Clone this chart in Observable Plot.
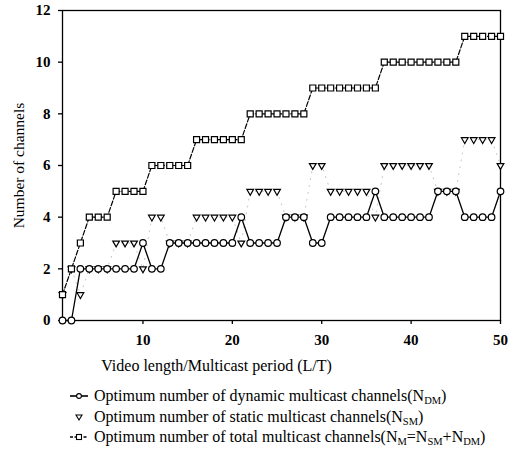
<!DOCTYPE html>
<html>
<head>
<meta charset="utf-8">
<script src="https://cdn.jsdelivr.net/npm/d3@7"></script>
<script src="https://cdn.jsdelivr.net/npm/@observablehq/plot@0.6"></script>
<style>
  body { margin: 0; background: #fff; font-family: "Liberation Serif", "Times New Roman", serif; color: #000; }
  #chart svg { display: block; }
  #legend { padding-left: 70px; margin-top: 2px; }
  .row { height: 20.5px; line-height: 20.5px; font-size: 16px; white-space: nowrap; display: flex; align-items: center; }
  .row svg { width: 24px; height: 14px; flex: none; }
  sub { font-size: 10.5px; vertical-align: -3px; line-height: 0; }
</style>
</head>
<body>
<div id="chart"></div>
<div id="legend"></div>
<script>
// Video length / multicast period (L/T)
const ratio = [1, 2, 3, 4, 5, 6, 7, 8, 9, 10,
  11, 12, 13, 14, 15, 16, 17, 18, 19, 20,
  21, 22, 23, 24, 25, 26, 27, 28, 29, 30,
  31, 32, 33, 34, 35, 36, 37, 38, 39, 40,
  41, 42, 43, 44, 45, 46, 47, 48, 49, 50];

// Optimum number of dynamic multicast channels (N_DM)
const dynamicCh = [0, 0, 2, 2, 2, 2, 2, 2, 2, 3,
  2, 2, 3, 3, 3, 3, 3, 3, 3, 3,
  4, 3, 3, 3, 3, 4, 4, 4, 3, 3,
  4, 4, 4, 4, 4, 5, 4, 4, 4, 4,
  4, 4, 5, 5, 5, 4, 4, 4, 4, 5];

// Optimum number of static multicast channels (N_SM)
const staticCh = [1, 2, 1, 2, 2, 2, 3, 3, 3, 2,
  4, 4, 3, 3, 3, 4, 4, 4, 4, 4,
  3, 5, 5, 5, 5, 4, 4, 4, 6, 6,
  5, 5, 5, 5, 5, 4, 6, 6, 6, 6,
  6, 6, 5, 5, 5, 7, 7, 7, 7, 6];

// Optimum number of total multicast channels (N_M = N_SM + N_DM)
const totalCh = [1, 2, 3, 4, 4, 4, 5, 5, 5, 5,
  6, 6, 6, 6, 6, 7, 7, 7, 7, 7,
  7, 8, 8, 8, 8, 8, 8, 8, 9, 9,
  9, 9, 9, 9, 9, 9, 10, 10, 10, 10,
  10, 10, 10, 10, 10, 11, 11, 11, 11, 11];

const xTicks = [10, 20, 30, 40, 50];
const yTicks = [0, 2, 4, 6, 8, 10, 12];
const xLabel = "Video length/Multicast period (L/T)";
const yLabel = "Number of channels";

const dyn = ratio.map((x, i) => ({x, y: dynamicCh[i]}));
const sta = ratio.map((x, i) => ({x, y: staticCh[i]}));
const tot = ratio.map((x, i) => ({x, y: totalCh[i]}));

const font = '"Liberation Serif", "Times New Roman", serif';

const chart = Plot.plot({
  width: 512,
  height: 384,
  marginTop: 10,
  marginLeft: 62,
  marginRight: 12,
  marginBottom: 64,
  style: {fontFamily: font, fontSize: "15px", background: "#fff", color: "#000", overflow: "visible"},
  x: {domain: [1, 50], label: null},
  y: {domain: [0, 12], label: null},
  marks: [
    Plot.axisX({ticks: xTicks, tickSize: 4, tickPadding: 10, fontWeight: "bold", label: null, strokeWidth: 1.3}),
    Plot.axisY({ticks: yTicks, tickSize: 4, tickPadding: 8, fontWeight: "bold", label: null, strokeWidth: 1.3}),
    Plot.frame({stroke: "#000", strokeWidth: 1.3}),
    // connecting lines
    Plot.line(sta, {x: "x", y: "y", stroke: "#c4c4c4", strokeWidth: 1, strokeDasharray: "1,6"}),
    Plot.line(dyn, {x: "x", y: "y", stroke: "#000", strokeWidth: 1.3}),
    Plot.line(tot, {x: "x", y: "y", stroke: "#000", strokeWidth: 1.2, strokeDasharray: "5,2"}),
    // markers
    Plot.dot(sta, {x: "x", y: "y", symbol: "triangle", rotate: 180, r: 2.5, fill: "#fff", stroke: "#000", strokeWidth: 1.2}),
    Plot.dot(dyn, {x: "x", y: "y", symbol: "circle", r: 3.3, fill: "#fff", stroke: "#000", strokeWidth: 1.2}),
    Plot.dot(tot, {x: "x", y: "y", symbol: "square", r: 3.4, fill: "#fff", stroke: "#000", strokeWidth: 1.2}),
    // axis titles
    Plot.text([xLabel], {frameAnchor: "bottom", dx: -65, dy: 45, lineAnchor: "middle", fontSize: 16, fill: "#000"}),
    Plot.text([yLabel], {frameAnchor: "left", dx: -43, rotate: -90, lineAnchor: "middle", textAnchor: "middle", fontSize: 15.5, fill: "#000"})
  ]
});
document.getElementById("chart").append(chart);

// Legend
const legendItems = [
  {sym: "circle", dash: null, html: "Optimum number of dynamic multicast channels(N<sub>DM</sub>)"},
  {sym: "triangle", dash: "none", html: "Optimum number of static multicast channels(N<sub>SM</sub>)"},
  {sym: "square", dash: "3,1.5", html: "Optimum number of total multicast channels(N<sub>M</sub>=N<sub>SM</sub>+N<sub>DM</sub>)"}
];
const legend = d3.select("#legend");
for (const item of legendItems) {
  const row = legend.append("div").attr("class", "row");
  const svg = row.append("svg").attr("viewBox", "0 0 24 14");
  if (item.dash !== "none") {
    svg.append("line").attr("x1", 0).attr("x2", 18).attr("y1", 7).attr("y2", 7)
      .attr("stroke", "#000").attr("stroke-width", 1.6)
      .attr("stroke-dasharray", item.dash || null);
  }
  if (item.sym === "circle") {
    svg.append("circle").attr("cx", 9).attr("cy", 7).attr("r", 2.4).attr("fill", "#fff").attr("stroke", "#000").attr("stroke-width", 1.1);
  } else if (item.sym === "triangle") {
    svg.append("path").attr("d", "M6,5 L12,5 L9,10 Z").attr("fill", "#fff").attr("stroke", "#000").attr("stroke-width", 1.1);
  } else {
    svg.append("rect").attr("x", 6.5).attr("y", 4.5).attr("width", 5).attr("height", 5).attr("fill", "#fff").attr("stroke", "#000").attr("stroke-width", 1.1);
  }
  row.append("span").html(item.html);
}
</script>
</body>
</html>
